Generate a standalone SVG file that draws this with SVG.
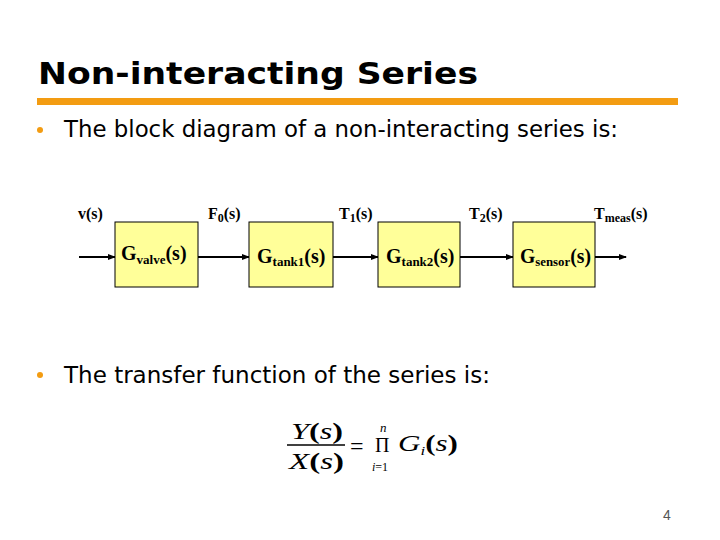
<svg xmlns="http://www.w3.org/2000/svg" width="720" height="540" viewBox="0 0 720 540">
<style>
.title{font-family:"DejaVu Sans","Liberation Sans",Arial,sans-serif;font-weight:bold;font-size:31px;fill:#000}
.bul{font-family:"DejaVu Sans Condensed","DejaVu Sans",sans-serif;font-size:23px;fill:#000}
.dot{fill:#f39c12}
.blk{fill:#ffff99;stroke:#000;stroke-width:1}
.lbl{font-family:"Liberation Serif","Times New Roman",serif;font-weight:bold;font-size:16px;fill:#000}
.bl{font-family:"Liberation Serif","Times New Roman",serif;font-weight:bold;font-size:20px;fill:#000}
.sub{font-size:12px}
.bsub{font-size:13px}
.wire{stroke:#000;stroke-width:2;fill:none;marker-end:url(#ah)}
.math{font-family:"Liberation Serif","Times New Roman",serif;fill:#000}
.it{font-style:italic}
.bd{font-weight:bold}
</style>
<defs>
<marker id="ah" markerWidth="8" markerHeight="8" refX="7" refY="4" orient="auto" markerUnits="userSpaceOnUse">
<path d="M0,1 L8,4 L0,7 z" fill="#000"/>
</marker>
</defs>
<rect width="720" height="540" fill="#fff"/>
<text class="title" x="38" y="84" textLength="440" lengthAdjust="spacingAndGlyphs">Non-interacting Series</text>
<rect x="37" y="98" width="641" height="7" fill="#f39c12"/>
<circle class="dot" cx="40" cy="130" r="3"/>
<text class="bul" x="64" y="137" textLength="554" lengthAdjust="spacingAndGlyphs">The block diagram of a non-interacting series is:</text>

<g id="connectors">
<line class="wire" x1="79" y1="257" x2="115" y2="257"/>
<line class="wire" x1="198" y1="257" x2="249" y2="257"/>
<line class="wire" x1="333" y1="257" x2="378" y2="257"/>
<line class="wire" x1="460" y1="257" x2="513" y2="257"/>
<line class="wire" x1="595" y1="257" x2="626" y2="257"/>
<text class="lbl" x="78" y="219">v(s)</text>
<text class="lbl" x="208" y="219">F<tspan class="sub" dy="3">0</tspan><tspan dy="-3">(s)</tspan></text>
<text class="lbl" x="339" y="219">T<tspan class="sub" dy="3">1</tspan><tspan dy="-3">(s)</tspan></text>
<text class="lbl" x="469" y="219">T<tspan class="sub" dy="3">2</tspan><tspan dy="-3">(s)</tspan></text>
<text class="lbl" x="594" y="219">T<tspan class="sub" dy="3">meas</tspan><tspan dy="-3">(s)</tspan></text>
</g>

<g id="valve">
<rect class="blk" x="115" y="222" width="83" height="65"/>
<text class="bl" x="121" y="260">G<tspan class="bsub" dy="4">valve</tspan><tspan dy="-4">(s)</tspan></text>
</g>
<g id="tank1">
<rect class="blk" x="249" y="222" width="84" height="65"/>
<text class="bl" x="257" y="263">G<tspan class="bsub" dy="3">tank1</tspan><tspan dy="-3">(s)</tspan></text>
</g>
<g id="tank2">
<rect class="blk" x="378" y="222" width="82" height="65"/>
<text class="bl" x="386" y="263">G<tspan class="bsub" dy="3">tank2</tspan><tspan dy="-3">(s)</tspan></text>
</g>
<g id="sensor">
<rect class="blk" x="513" y="222" width="82" height="65"/>
<text class="bl" x="520" y="263" textLength="71" lengthAdjust="spacingAndGlyphs">G<tspan class="bsub" dy="3">sensor</tspan><tspan dy="-3">(s)</tspan></text>
</g>

<circle class="dot" cx="40" cy="375" r="3"/>
<text class="bul" x="64" y="383" textLength="426" lengthAdjust="spacingAndGlyphs">The transfer function of the series is:</text>

<g id="formula">
<text class="math" style="font-size:24px" x="291" y="439" textLength="52" lengthAdjust="spacingAndGlyphs"><tspan class="it">Y</tspan><tspan class="bd">(</tspan><tspan class="it">s</tspan><tspan class="bd">)</tspan></text>
<line x1="287" y1="445" x2="345" y2="445" stroke="#000" stroke-width="1.5"/>
<text class="math" style="font-size:24px" x="289" y="469" textLength="55" lengthAdjust="spacingAndGlyphs"><tspan class="it">X</tspan><tspan class="bd">(</tspan><tspan class="it">s</tspan><tspan class="bd">)</tspan></text>
<text class="math" style="font-size:24px" x="350" y="454">=</text>
<text class="math" style="font-size:20px" x="375" y="452">Π</text>
<text class="math it" style="font-size:13px" x="380" y="432">n</text>
<text class="math" style="font-size:12px" x="372" y="471"><tspan class="it">i</tspan>=1</text>
<text class="math" style="font-size:24px" x="398" y="451" textLength="60" lengthAdjust="spacingAndGlyphs"><tspan class="it">G</tspan><tspan class="it" style="font-size:13px" dy="4">i</tspan><tspan class="bd" dy="-4">(</tspan><tspan class="it">s</tspan><tspan class="bd">)</tspan></text>
</g>

<text x="663" y="520" font-family="Liberation Sans,Arial,sans-serif" font-size="14" fill="#555">4</text>
</svg>
